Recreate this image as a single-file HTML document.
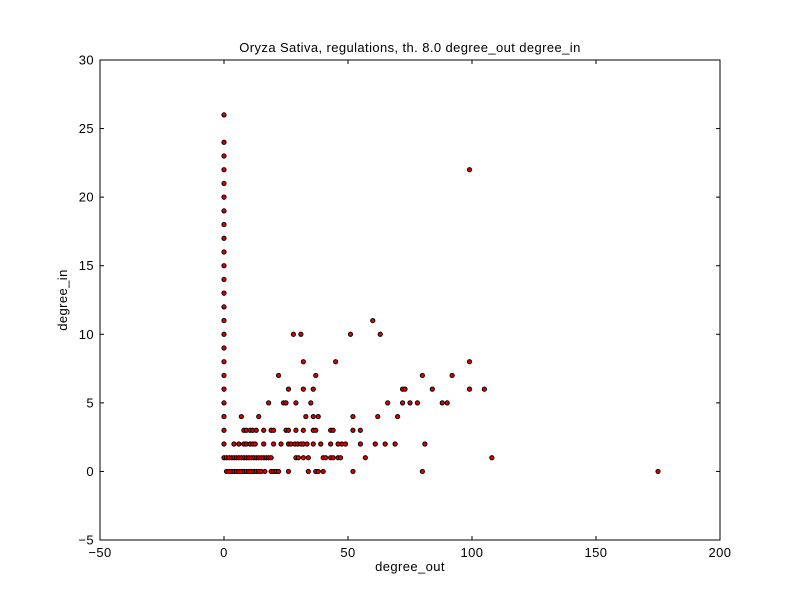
<!DOCTYPE html>
<html><head><meta charset="utf-8"><style>
body{margin:0;background:#fff;}
svg{display:block;font-family:"Liberation Sans",sans-serif;}
svg text{letter-spacing:0.4px;}
</style></head><body>
<svg id="chart" width="800" height="600">
<rect width="800" height="600" fill="#fff"/>
<text x="410" y="52" font-size="13" text-anchor="middle">Oryza Sativa, regulations, th. 8.0 degree_out degree_in</text>
<text x="410" y="571" font-size="13" text-anchor="middle">degree_out</text>
<text x="67" y="300" font-size="13" text-anchor="middle" transform="rotate(-90 67 300)">degree_in</text>
<g id="ticks"></g>
<g id="points"></g>
<rect x="100" y="60" width="620" height="480" fill="none" stroke="#000" stroke-width="1"/>
</svg>
<script>
const xTicks=[-50,0,50,100,150,200];
const yTicks=[-5,0,5,10,15,20,25,30];
const xs=[0,0,0,0,0,0,0,0,0,0,0,0,0,0,0,0,0,0,0,0,0,0,0,0,0,
99,175,60,28,31,51,63,32,45,99,22,37,80,92,26,32,36,72,73,84,99,105,
18,24,25,29,35,66,72,75,78,88,90,7,14,33,36,38,52,62,70,
8,9,10.5,11.6,13,16,19,20,25,26,29,32,36,37,43,44,52,55,
4,6,8,9,10.5,11.6,12.6,16,20,23,26,27,28.6,29.7,31,32,33.5,36,39,43,46,47.5,49,55,61,65,69,81,
1,2,3,4,5,6,7,8,9,10,11,12,13,14,15,16,17,18,19,29,30,32,34,40,41,43,44,46,47,57,108,
1,2,3,4,5,6,7,8,9,10,11,12,13,14,15,16.5,19,20,21,22,26,34,37,38,40,52,80];
const ys=[26,24,23,22,21,20,19,18,17,16,15,14,13,12,11,10,9,8,7,6,5,4,3,2,1,
22,0,11,10,10,10,10,8,8,8,7,7,7,7,6,6,6,6,6,6,6,6,
5,5,5,5,5,5,5,5,5,5,5,4,4,4,4,4,4,4,4,
3,3,3,3,3,3,3,3,3,3,3,3,3,3,3,3,3,3,
2,2,2,2,2,2,2,2,2,2,2,2,2,2,2,2,2,2,2,2,2,2,2,2,2,2,2,2,
1,1,1,1,1,1,1,1,1,1,1,1,1,1,1,1,1,1,1,1,1,1,1,1,1,1,1,1,1,1,1,
0,0,0,0,0,0,0,0,0,0,0,0,0,0,0,0,0,0,0,0,0,0,0,0,0,0,0];
const NS="http://www.w3.org/2000/svg";
const X0=100,X1=720,Y0=540,Y1=60,xmin=-50,xmax=200,ymin=-5,ymax=30;
function sx(v){return X0+(v-xmin)/(xmax-xmin)*(X1-X0);}
function sy(v){return Y0-(v-ymin)/(ymax-ymin)*(Y0-Y1);}
const tg=document.getElementById('ticks');
function mk(tag,attrs){const e=document.createElementNS(NS,tag);for(const k in attrs)e.setAttribute(k,attrs[k]);return e;}
xTicks.forEach(t=>{
  const x=sx(t);
  const l1=mk('line',{x1:x,x2:x,y1:Y0,y2:Y0-4,stroke:'#000'});
  
  
  tg.appendChild(l1);
  const l2=mk('line',{x1:x,x2:x,y1:Y1,y2:Y1+4,stroke:'#000'});
  
  
  tg.appendChild(l2);
  const tx=mk('text',{x:x,y:Y0+17,'font-size':13,'text-anchor':'middle'});
  tx.textContent=String(t).replace('-','\u2212');
  
  
  tg.appendChild(tx);
});
yTicks.forEach(t=>{
  const y=sy(t);
  const l1=mk('line',{x1:X0,x2:X0+4,y1:y,y2:y,stroke:'#000'});
  
  
  tg.appendChild(l1);
  const l2=mk('line',{x1:X1,x2:X1-4,y1:y,y2:y,stroke:'#000'});
  
  
  tg.appendChild(l2);
  const tx=mk('text',{x:X0-6,y:y+4.5,'font-size':13,'text-anchor':'end'});
  tx.textContent=String(t).replace('-','\u2212');
  
  
  tg.appendChild(tx);
});
const pg=document.getElementById('points');
xs.forEach((v,i)=>{
  const c=mk('circle',{cx:sx(v),cy:sy(ys[i]),r:2.1,fill:'#e00000',stroke:'#000','stroke-width':1});
  
  
  pg.appendChild(c);
});
</script>
</body></html>
